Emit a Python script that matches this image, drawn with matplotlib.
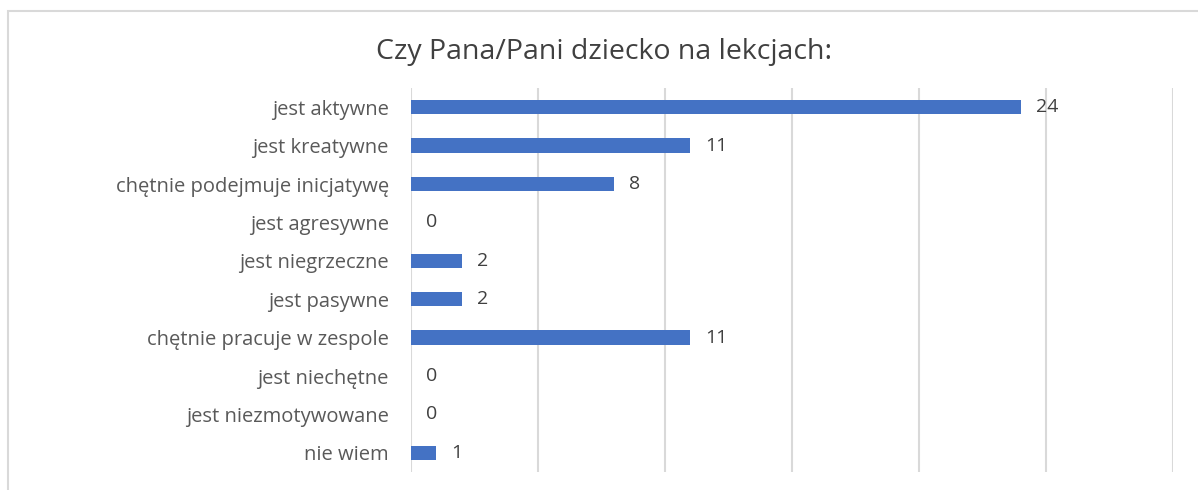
import matplotlib.pyplot as plt
from matplotlib.patches import Rectangle

categories = ["jest aktywne", "jest kreatywne", "chętnie podejmuje inicjatywę",
              "jest agresywne", "jest niegrzeczne", "jest pasywne",
              "chętnie pracuje w zespole", "jest niechętne",
              "jest niezmotywowane", "nie wiem"]
values = [24, 11, 8, 0, 2, 2, 11, 0, 0, 1]
x_ticks = [0, 5, 10, 15, 20, 25, 30]

plt.rcParams['font.family'] = ['Open Sans', 'DejaVu Sans']

fig = plt.figure(figsize=(11.98, 4.90), dpi=100)
ax = fig.add_axes([411 / 1198, 1 - 472 / 490, (1173 - 411) / 1198, (472 - 88) / 490])

# outer chart border
fig.patches.append(Rectangle((8 / 1198, -0.05), 1.2, 1 - 11 / 490 + 0.05,
                             transform=fig.transFigure, fill=False,
                             edgecolor="#d9d9d9", linewidth=1.5))

ypos = list(range(len(categories)))
ax.barh(ypos, values, height=0.37, color="#4472c4", zorder=3)

for y, v in zip(ypos, values):
    ax.text(v + 0.6, y, str(v), va="center", ha="left", fontsize=14,
            color="#404040", fontweight="medium")

ax.set_xlim(0, 30)
ax.set_ylim(len(categories) - 0.5, -0.5)
ax.set_xticks(x_ticks)
ax.set_xticklabels([])
ax.set_yticks(ypos)
ax.set_yticklabels(categories, fontsize=14.5, color="#595959")
ax.tick_params(axis="both", length=0, pad=16)
ax.grid(axis="x", color="#d9d9d9", linewidth=1.5, zorder=0)
for s in ax.spines.values():
    s.set_visible(False)

fig.text(0.5 + 5 / 1198, 1 - 52 / 490, "Czy Pana/Pani dziecko na lekcjach:", ha="center",
         va="center", fontsize=20.5, color="#404040")

fig.savefig("out.png", dpi=100)
